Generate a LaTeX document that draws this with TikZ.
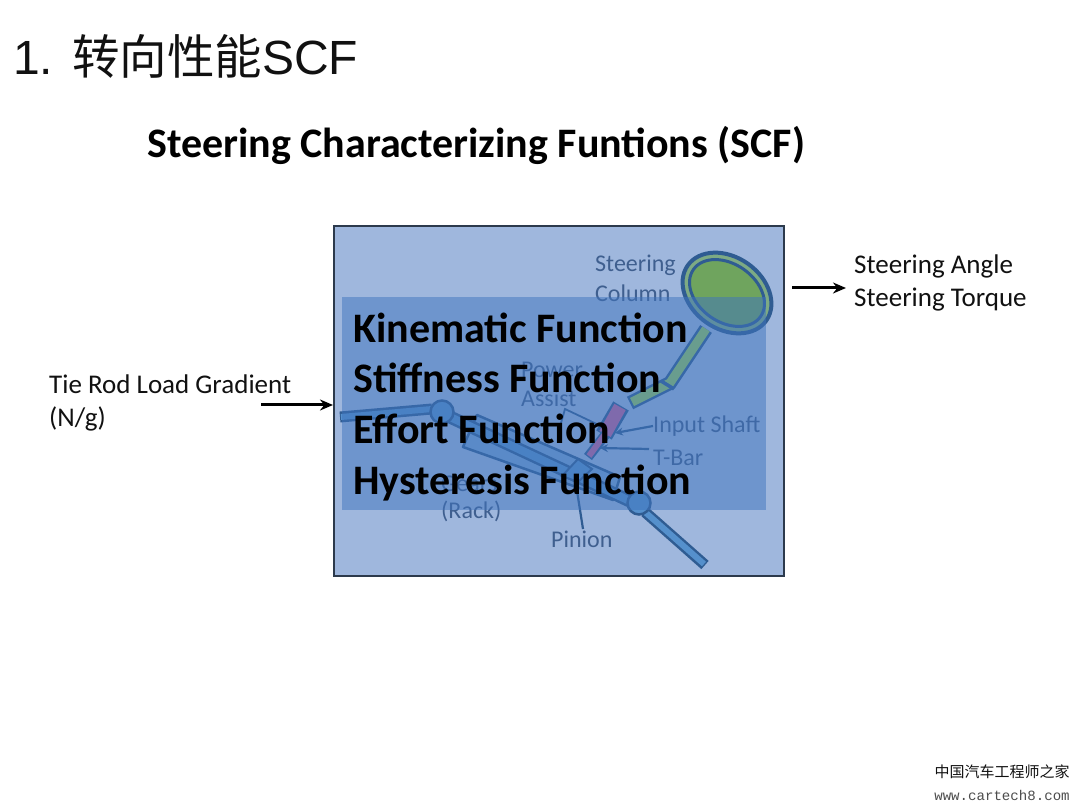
\documentclass[tikz,border=0pt]{standalone}
\usepackage{fontspec}
\setmainfont{Carlito}
\newfontfamily\arialf{Liberation Sans}
\newfontfamily\cjkf{Noto Sans CJK SC}
\newfontfamily\monof{Liberation Mono}
\usetikzlibrary{arrows.meta}
\definecolor{boxfill}{HTML}{9FB7DD}
\definecolor{boxline}{HTML}{2C3A4C}
\definecolor{panelc}{HTML}{3F74BE}
\definecolor{partc}{HTML}{5590CC}
\definecolor{partl}{HTML}{2F5C92}
\definecolor{wheelg}{HTML}{6FA45E}
\definecolor{shaftg}{HTML}{95C85E}
\definecolor{redp}{HTML}{C0609A}
\definecolor{labc}{HTML}{3F5F8F}
\definecolor{textc}{HTML}{111111}
\tikzset{
  x=1pt,y=-1pt,
  plainlab/.style={font=\fontsize{27}{32.5}\selectfont,text=textc,anchor=west,align=left,inner sep=0pt},
  partlab/.style={font=\fontsize{24}{28}\selectfont,text=labc,inner sep=0pt,anchor=west},
  funclab/.style={font=\bfseries\fontsize{42}{46}\selectfont,text=black,anchor=base west,inner sep=0pt},
  flowarrow/.style={-{Stealth[length=13pt,width=11pt]},line width=3pt,draw=black},
  leader/.style={line width=2.2pt,draw=partl},
  outl/.style={draw=partl,line cap=butt,line join=round},
  ball/.style={circle,draw=partl,line width=2.5pt,fill=partc,minimum size=23pt,inner sep=0pt},
}
\begin{document}
\begin{tikzpicture}
\useasboundingbox (0,0) rectangle (1080,810);
\fill[white] (0,0) rectangle (1080,810);
\node[anchor=west,inner sep=0pt,font=\fontsize{48}{52}\selectfont,text=textc] (title) at (13,56) {\arialf 1.\hspace{19pt}{\fontsize{47.5}{52}\selectfont\cjkf 转向性能}SCF};
\node[anchor=west,inner sep=0pt,font=\bfseries\fontsize{42}{48}\selectfont,text=black] (sub) at (147,145) {Steering Characterizing Funtions (SCF)};
\node[draw=boxline,line width=1.8pt,fill=boxfill,minimum width=450pt,minimum height=350pt,anchor=north west,inner sep=0pt] (mainbox) at (333,225) {};
% left tie rod
\draw[outl,line width=11pt] (340,417) -- (432,409);
\draw[draw=partc,line width=6pt] (341,417) -- (432,409);
% rack housing
\draw[draw=partl,line width=2.5pt,fill=partc!55!boxfill,line join=round] (477,415) -- (620,477) -- (613,500) -- (463,447) -- cycle;
% rack tube
\draw[outl,line width=13pt] (450,417) -- (632,502);
\draw[draw=partc,line width=8pt] (450,417) -- (632,502);
% lower tie rod
\draw[outl,line width=11pt] (645,512) -- (705,565);
\draw[draw=partc,line width=6pt] (645,512) -- (704,564);
\node[ball] (jl) at (442,412) {};
\node[ball] (jr) at (639,503) {};
% column
\draw[outl,line width=14pt,line join=miter] (706,329) -- (670,383) -- (630,403);
\draw[draw=shaftg,line width=9pt,line join=miter] (706,329) -- (670,383) -- (632,402);
\draw[draw=partl,line width=3.5pt] (661,381) -- (674,389);
% input shaft and torsion bar
\draw[outl,line width=18pt] (621,406) -- (604,435);
\draw[draw=redp,line width=13pt] (620,407) -- (605,434);
\draw[outl,line width=10pt] (606,434) -- (588,457);
\draw[draw=redp,line width=6pt] (606,433) -- (589,456);
% pinion
\draw[draw=partl,line width=2pt,fill=partc] (562,476) -- (578,459) -- (592,469) -- (578,482) -- cycle;
% wheel
\draw[draw=partl,line width=4pt,fill=wheelg!70!boxfill,rotate around={-35:(727,293)}] (727,293) ellipse (48pt and 36pt);
\draw[draw=partl,line width=3pt,fill=wheelg,rotate around={-35:(727,293)}] (727,293) ellipse (41pt and 29pt);
\node[partlab] (lcol) at (595,265) {Steering};
\node[partlab] (lcol2) at (595,293) {Column};
\node[partlab] (lpow) at (521,370) {Power};
\node[partlab] (lass) at (521,398) {Assist};
\node[partlab] (lin) at (653,426) {Input Shaft};
\node[partlab] (ltb) at (653,458) {T-Bar};
\node[partlab] (lgear) at (441,484) {Gears};
\node[partlab] (lrack) at (441,511) {(Rack)};
\node[partlab] (lpin) at (551,539) {Pinion};
\coordinate (pinT) at (575,478);
\coordinate (inT) at (615,433);
\coordinate (tbT) at (600,448);
\coordinate (powT) at (603,427);
\coordinate (pinS) at (583,529);
\draw[leader,-{Stealth[length=8pt,width=8pt]}] (lin.west) -- (inT);
\draw[leader,-{Stealth[length=8pt,width=8pt]}] (649,449) -- (tbT);
\draw[leader] (pinS) -- (pinT);
\draw[leader,line width=1.8pt] (561,423) -- (565,409) -- (powT);
\fill[panelc,opacity=.5] (342,297) rectangle (766,510);
\node[funclab] (f1) at (353,342.5) {Kinematic Function};
\node[funclab] (f2) at (353,393) {Stiffness Function};
\node[funclab] (f3) at (353,444) {Effort Function};
\node[funclab] (f4) at (353,494.5) {Hysteresis Function};
\node[plainlab] (lleft) at (49,403) {Tie Rod Load Gradient\\(N/g)};
\node[plainlab] (lright) at (854,283) {Steering Angle\\Steering Torque};
\coordinate (a1) at (261,405);
\coordinate (b2) at (792,288);
\coordinate (b3) at (846,288);
\draw[flowarrow] (a1) -- (mainbox.west |- a1);
\draw[flowarrow] (b2) -- (b3);
\node[anchor=center,inner sep=0pt,font=\fontsize{15}{18}\selectfont,text=textc] (wm1) at (1002,772) {\cjkf 中国汽车工程师之家};
\node[anchor=center,inner sep=0pt,font=\fontsize{14.1}{18}\selectfont,text=black!70] (wm2) at (1002,795) {\monof www.cartech8.com};
\end{tikzpicture}
\end{document}
